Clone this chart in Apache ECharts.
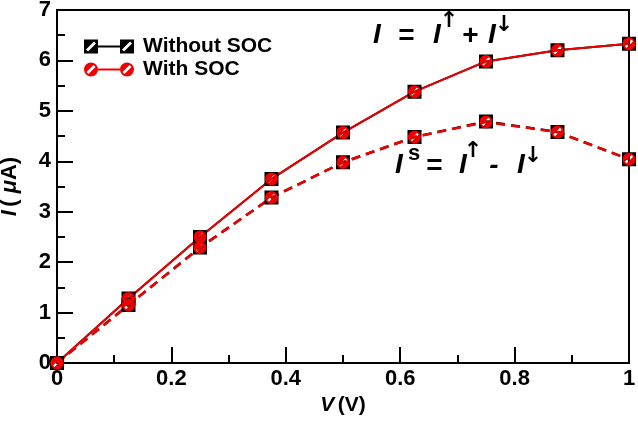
<!DOCTYPE html>
<html>
<head>
<meta charset="utf-8">
<script src="https://cdn.jsdelivr.net/npm/echarts@6/dist/echarts.min.js"></script>
<style>html,body{margin:0;padding:0;background:#fff}#c{width:638px;height:424px}</style>
</head>
<body>
<div id="c"></div>
<script>
// Data
const voltages = [0, 0.125, 0.25, 0.375, 0.5, 0.625, 0.75, 0.875, 1];
const totalWithoutSOC = [0, 1.28, 2.5, 3.65, 4.57, 5.38, 5.98, 6.2, 6.33];
const spinWithoutSOC  = [0, 1.15, 2.29, 3.28, 3.98, 4.48, 4.79, 4.58, 4.04];
const totalWithSOC    = [0, 1.28, 2.5, 3.65, 4.57, 5.38, 5.98, 6.2, 6.33];
const spinWithSOC     = [0, 1.15, 2.29, 3.28, 3.98, 4.48, 4.78, 4.58, 4.04];
const legendNames = ['Without SOC', 'With SOC'];
const xTicks = [0, 0.2, 0.4, 0.6, 0.8, 1];
const yTicks = [0, 1, 2, 3, 4, 5, 6, 7];

const RED = '#f00000';
const FONT = '"Liberation Sans", Arial, Helvetica, sans-serif';
const AFONT = '"DejaVu Sans", sans-serif';

const SQ = 'path://M0,0L14,0L14,14L0,14Z M2,10L4,12L12,4L10,2Z';
const CI = 'path://M0,7A7,7 0 1 1 14,7A7,7 0 1 1 0,7Z M2.5,9.5L4.5,11.5L11.5,4.5L9.5,2.5Z';
const LEG_SQ = 'path://M0,0L14,0L14,14L0,14Z M2,10L4,12L12,4L10,2Z M14,6L36,6L36,8L14,8Z M36,0L50,0L50,14L36,14Z M38,10L40,12L48,4L46,2Z';
const LEG_CI = 'path://M0,7A7,7 0 1 1 14,7A7,7 0 1 1 0,7Z M2.5,9.5L4.5,11.5L11.5,4.5L9.5,2.5Z M14,6L36,6L36,8L14,8Z M36,7A7,7 0 1 1 50,7A7,7 0 1 1 36,7Z M38.5,9.5L40.5,11.5L47.5,4.5L45.5,2.5Z';

function pairs(vals) { return voltages.map((v, i) => [v, vals[i]]); }

function mkSeries(name, vals, color, symbol, size, dashed) {
  return {
    name: name, type: 'line', data: pairs(vals),
    symbol: symbol, symbolSize: size, showAllSymbol: true,
    lineStyle: { color: color, width: dashed ? 2.5 : 2, type: dashed ? [9, 6] : 'solid' },
    itemStyle: { color: color, borderWidth: 0 },
    emphasis: { disabled: true }, animation: false
  };
}

const chart = echarts.init(document.getElementById('c'), null, { renderer: 'canvas' });

function txt(s, x, y, size, italic, fam) {
  return {
    type: 'text', x: x, y: y, silent: true,
    style: {
      text: s, fill: '#000', align: 'center', verticalAlign: 'middle',
      font: (italic ? 'italic ' : '') + 'bold ' + size + 'px ' + (fam || FONT)
    }
  };
}

chart.setOption({
  backgroundColor: '#fff',
  animation: false,
  grid: { left: 57, right: 9, top: 10, bottom: 61, show: true, borderColor: '#000', borderWidth: 2,
    backgroundColor: 'transparent', containLabel: false, outerBoundsMode: 'none' },
  legend: {
    orient: 'vertical', left: 84, top: 36, padding: 0, itemGap: 2,
    itemWidth: 50, itemHeight: 14,
    data: [
      { name: legendNames[0], icon: LEG_SQ },
      { name: legendNames[1], icon: LEG_CI }
    ],
    itemStyle: { borderWidth: 0 },
    textStyle: { fontSize: 21, fontWeight: 'bold', color: '#000', fontFamily: FONT, padding: [0, 0, 0, 4] },
    selectedMode: false
  },
  xAxis: {
    type: 'value', min: xTicks[0], max: xTicks[xTicks.length - 1], interval: xTicks[1] - xTicks[0],
    name: '{i|V} {n|(V)}', nameLocation: 'middle', nameGap: 31,
    nameTextStyle: { rich: {
      i: { fontSize: 21, fontWeight: 'bold', fontStyle: 'italic', fontFamily: FONT, color: '#000' },
      n: { fontSize: 21, fontWeight: 'bold', fontFamily: FONT, color: '#000' } } },
    axisLine: { show: true, lineStyle: { color: '#000', width: 2 } },
    axisTick: { show: true, inside: true, length: 16, lineStyle: { color: '#000', width: 2 } },
    minorTick: { show: true, splitNumber: 2, length: 8, lineStyle: { color: '#000', width: 2 } },
    splitLine: { show: false },
    axisLabel: { margin: 5, fontSize: 22, fontWeight: 'bold', color: '#000', fontFamily: FONT,
      formatter: v => String(+v.toFixed(1)) }
  },
  yAxis: {
    type: 'value', min: yTicks[0], max: yTicks[yTicks.length - 1], interval: yTicks[1] - yTicks[0],
    name: '{i|I} {n|( }{i|μ}{n|A)}', nameLocation: 'middle', nameGap: 36,
    nameTextStyle: { rich: {
      i: { fontSize: 22, fontWeight: 'bold', fontStyle: 'italic', fontFamily: FONT, color: '#000' },
      n: { fontSize: 22, fontWeight: 'bold', fontFamily: FONT, color: '#000' } } },
    axisLine: { show: true, lineStyle: { color: '#000', width: 2 } },
    axisTick: { show: true, inside: true, length: 16, lineStyle: { color: '#000', width: 2 } },
    minorTick: { show: true, splitNumber: 2, length: 8, lineStyle: { color: '#000', width: 2 } },
    splitLine: { show: false },
    axisLabel: { margin: 6, fontSize: 22, fontWeight: 'bold', color: '#000', fontFamily: FONT }
  },
  graphic: [
    txt('I', 377, 35, 28, true),
    txt('=', 406, 36, 28, true),
    txt('I', 437, 35, 28, true),
    txt('↑', 449, 21, 22, false, AFONT),
    txt('+', 470, 36, 28, true),
    txt('I', 492, 35, 28, true),
    txt('↓', 504, 25, 22, false, AFONT),

    txt('I', 399, 165, 28, true),
    txt('s', 414, 154, 22, false),
    txt('=', 434, 166, 28, true),
    txt('I', 463, 165, 28, true),
    txt('↑', 473, 151, 22, false, AFONT),
    txt('-', 494, 166, 28, true),
    txt('I', 521, 165, 28, true),
    txt('↓', 533, 156, 22, false, AFONT)
  ],
  series: [
    mkSeries(legendNames[0], totalWithoutSOC, '#000', SQ, 14, false),
    mkSeries(legendNames[0], spinWithoutSOC, '#000', SQ, 14, true),
    mkSeries(legendNames[1], totalWithSOC, RED, CI, 13, false),
    mkSeries(legendNames[1], spinWithSOC, RED, CI, 13, true)
  ]
});
</script>
</body>
</html>
